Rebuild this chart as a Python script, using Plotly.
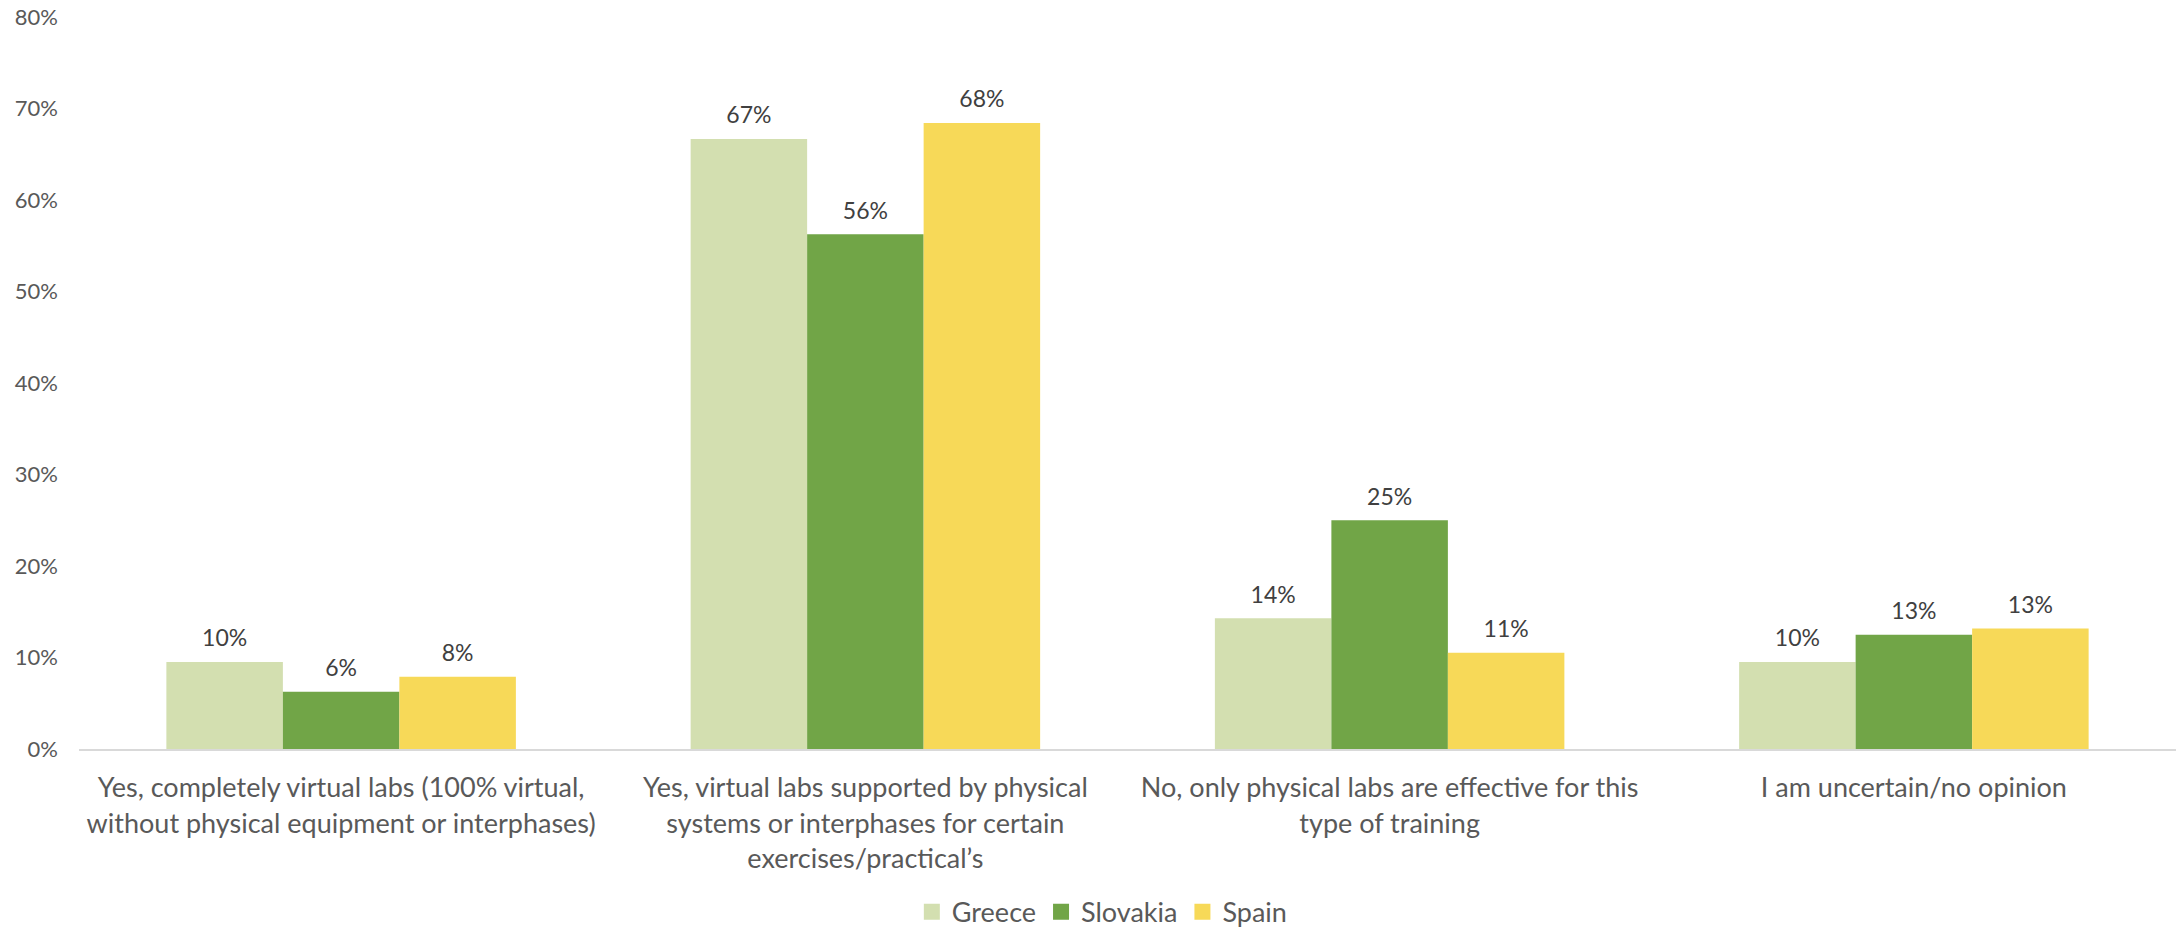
import plotly.graph_objects as go

# Survey answers (x-axis categories)
categories = [
    "Yes, completely virtual labs (100% virtual,<br>without physical equipment or interphases)",
    "Yes, virtual labs supported by physical<br>systems or interphases for certain<br>exercises/practical’s",
    "No, only physical labs are effective for this<br>type of training",
    "I am uncertain/no opinion",
]

# Share of respondents per country
greece = [0.0952, 0.6667, 0.1429, 0.0952]
slovakia = [0.0625, 0.5625, 0.2500, 0.1250]
spain = [0.0789, 0.6842, 0.1053, 0.1316]

series_names = ["Greece", "Slovakia", "Spain"]
series_values = [greece, slovakia, spain]
series_colors = ["#D3DFB0", "#71A547", "#F7D958"]

y_ticks = [0, 0.1, 0.2, 0.3, 0.4, 0.5, 0.6, 0.7, 0.8]

FONT = "Lato"
GAP = 1.5 / 4.5

fig = go.Figure()
for name, vals, color in zip(series_names, series_values, series_colors):
    fig.add_trace(go.Bar(
        x=categories,
        y=vals,
        name=name,
        marker=dict(color=color, line=dict(width=0)),
        offsetgroup=name,
        showlegend=False,
        hoverinfo="skip",
    ))
for name, vals, color in zip(series_names, series_values, series_colors):
    # value labels, grouped like the bars and lifted above each bar top
    fig.add_trace(go.Scatter(
        x=categories,
        y=vals,
        mode="markers+text",
        marker=dict(size=14, opacity=0, color=color),
        texttemplate="%{y:.0%}",
        textposition="top center",
        textfont=dict(family=FONT, size=23, color="#404040"),
        alignmentgroup="labels",
        offsetgroup=name,
        cliponaxis=False,
        showlegend=False,
        hoverinfo="skip",
    ))
for name, color in zip(series_names, series_colors):
    # legend entry with a larger square swatch
    fig.add_trace(go.Scatter(
        x=[None], y=[None], mode="markers", name=name,
        marker=dict(symbol="square", size=16, color=color),
        alignmentgroup="legend",
        offsetgroup="legend",
        showlegend=True,
    ))

fig.update_layout(
    width=2178,
    height=929,
    margin=dict(l=79, r=2, t=17, b=180),
    paper_bgcolor="white",
    plot_bgcolor="white",
    barmode="group",
    bargap=GAP,
    bargroupgap=0,
    scattermode="group",
    scattergap=GAP,
    font=dict(family=FONT, color="#595959"),
    legend=dict(
        orientation="h",
        x=0.488,
        xanchor="center",
        yref="container",
        y=0.018,
        yanchor="middle",
        font=dict(family=FONT, size=27, color="#595959"),
        itemwidth=30,
    ),
    xaxis=dict(
        showline=True,
        linecolor="#D9D9D9",
        linewidth=2,
        showgrid=False,
        zeroline=False,
        ticks="",
        tickfont=dict(family=FONT, size=27, color="#595959"),
        ticklabelstandoff=14,
    ),
    yaxis=dict(
        range=[0, 0.8],
        tickvals=y_ticks,
        tickformat=".0%",
        showgrid=False,
        zeroline=False,
        showline=False,
        ticks="",
        tickfont=dict(family=FONT, size=22, color="#595959"),
        ticklabelstandoff=20,
    ),
)

fig.write_html("out.html")
